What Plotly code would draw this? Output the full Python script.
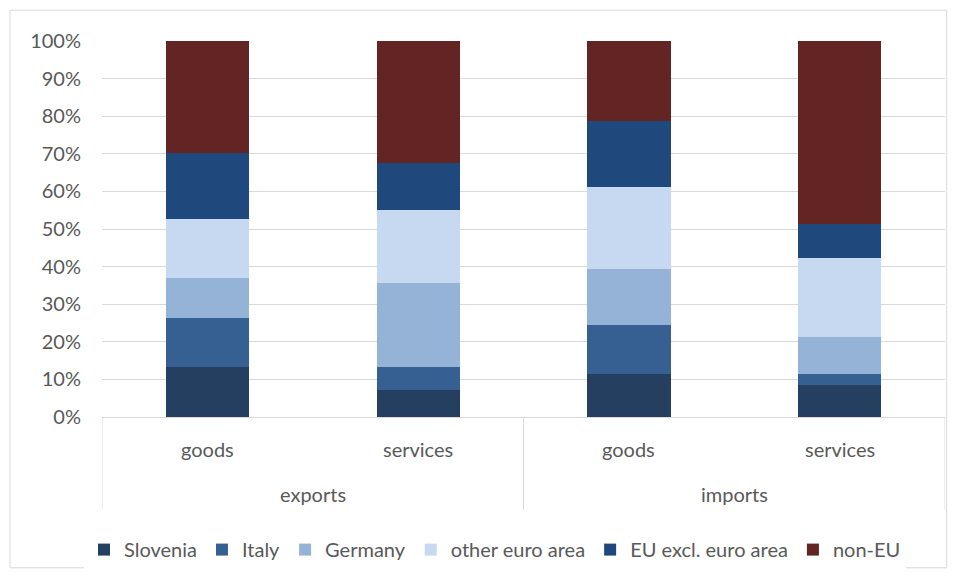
import plotly.graph_objects as go

flows = ["exports", "exports", "imports", "imports"]
kinds = ["goods", "services", "goods", "services"]

series = ["Slovenia", "Italy", "Germany", "other euro area", "EU excl. euro area", "non-EU"]
slovenia = [13.4, 7.3, 11.5, 8.4]
italy = [12.8, 6.0, 13.0, 3.0]
germany = [10.8, 22.3, 14.9, 9.8]
other_euro = [15.7, 19.5, 21.7, 21.1]
eu_excl = [17.4, 12.5, 17.7, 9.1]
non_eu = [29.9, 32.4, 21.2, 48.6]

values = [slovenia, italy, germany, other_euro, eu_excl, non_eu]
colors = ["#243F60", "#366092", "#95B3D7", "#C6D9F0", "#1F497D", "#632523"]

pos = list(range(len(kinds)))

fig = go.Figure()
for name, vals, col in zip(series, values, colors):
    fig.add_trace(go.Bar(
        x=pos, y=[v / 100 for v in vals], name=name,
        marker=dict(color=col, line=dict(width=0)),
    ))

font = "Lato, 'Open Sans', sans-serif"
grey = "#595959"
line = "#D9D9D9"
H = 379.0  # plot height px
W = 843.0  # plot width px

annotations = []
for p, k in zip(pos, kinds):
    annotations.append(dict(x=p, y=-32 / H, xref="x", yref="paper", text=k, showarrow=False,
                             xanchor="center", yanchor="middle", font=dict(size=20, color=grey)))
groups = []
for f in flows:
    if f not in groups:
        groups.append(f)
shapes = []
for g in groups:
    idx = [p for p, f in zip(pos, flows) if f == g]
    annotations.append(dict(x=sum(idx) / len(idx), y=-78 / H, xref="x", yref="paper", text=g,
                            showarrow=False, xanchor="center", yanchor="middle",
                            font=dict(size=20, color=grey)))
    for xb in (min(idx) - 0.5, max(idx) + 0.5):
        shapes.append(dict(type="line", xref="x", yref="paper", x0=xb, x1=xb, y0=0, y1=-93 / H,
                           line=dict(color=line, width=1)))

shapes.append(dict(type="rect", xref="paper", yref="paper",
                   x0=-92 / W, x1=1.002, y0=-152 / H, y1=1 + 31 / H,
                   line=dict(color=line, width=1), fillcolor="rgba(0,0,0,0)", layer="below"))

fig.update_layout(
    barmode="stack", bargap=0.605,
    width=957, height=581,
    margin=dict(l=102, r=12, t=41, b=161),
    paper_bgcolor="white", plot_bgcolor="white",
    font=dict(family=font, size=20, color=grey),
    legend=dict(orientation="h", x=(495 - 102) / W, xanchor="center", y=-114 / H, yanchor="top",
                font=dict(size=20, color=grey), itemwidth=30, traceorder="normal"),
    shapes=shapes, annotations=annotations,
)
fig.update_yaxes(range=[0, 1], tickformat=".0%", dtick=0.1, showgrid=True,
                 gridcolor=line, gridwidth=1, zeroline=False, showline=False,
                 ticks="", ticklen=0, ticklabelstandoff=20, tickfont=dict(size=20, color=grey))
fig.update_xaxes(range=[-0.5, len(kinds) - 0.5], showline=True, linecolor=line, linewidth=1,
                 showticklabels=False, showgrid=False, zeroline=False, ticks="")

fig.write_html("out.html")
